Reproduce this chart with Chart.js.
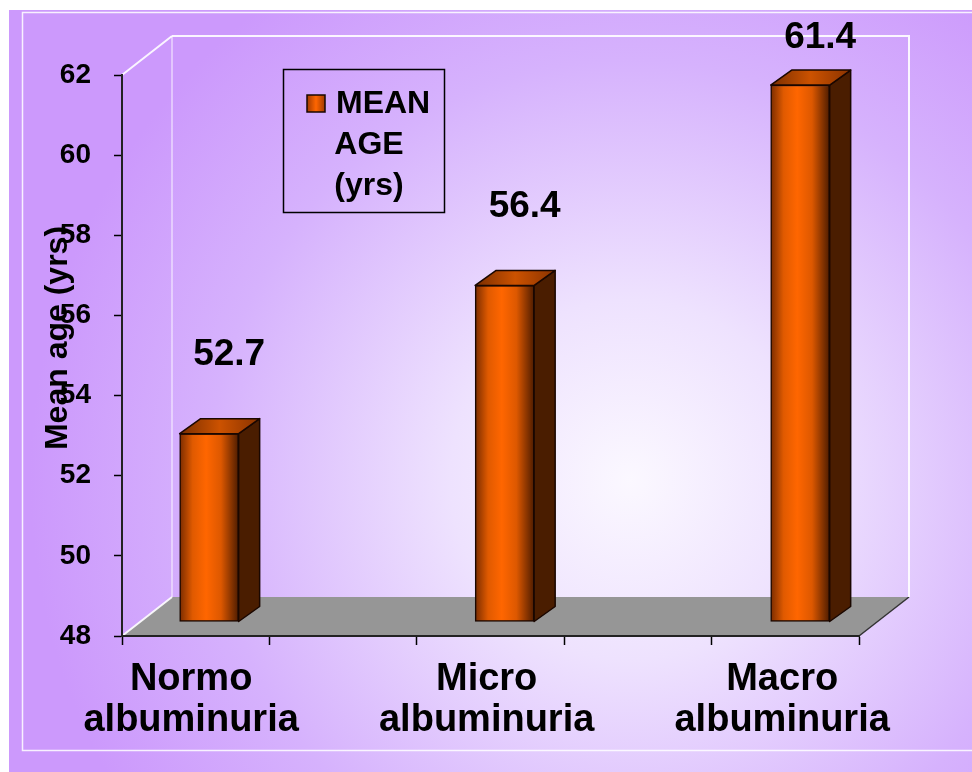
<!DOCTYPE html>
<html>
<head>
<meta charset="utf-8">
<title>Mean age by albuminuria group</title>
<script src="https://cdn.jsdelivr.net/npm/chart.js@4.4.0/dist/chart.umd.min.js"></script>
<style>
  html, body { margin: 0; padding: 0; background: #fff; }
  canvas { display: block; }
</style>
</head>
<body>
<canvas id="ageChart" width="972" height="772"></canvas>
<script>
// data
const categories = [["Normo", "albuminuria"], ["Micro", "albuminuria"], ["Macro", "albuminuria"]];
const meanAge = [52.7, 56.4, 61.4];
const seriesLabel = "MEAN AGE (yrs)";
const yTitle = "Mean age (yrs)";
const yMin = 48, yMax = 62, yStep = 2;

// category i sits at x = i; the range leaves room at both floor edges
const xMin = -0.234, xMax = 2.26;
const xTickCount = 5;

const FONT = '"Liberation Sans", Arial, sans-serif';
const BAR_SHIFT = { x: 18, y: -14 };   // bars stand a little behind the front edge
const BAR_DEPTH = { x: 21, y: -15 };
const BOX_DEPTH = { x: 50, y: -39 };

function isCategory(v) {
  const i = Math.round(v);
  return Math.abs(v - i) < 1e-6 && i >= 0 && i < categories.length;
}

function frontGradient(c) {
  const xs = c.chart.scales.x;
  if (!xs || c.dataIndex === undefined) return "#ff6600";
  const cx = xs.getPixelForValue(c.dataIndex);
  if (!Number.isFinite(cx)) return "#ff6600";
  const g = c.chart.ctx.createLinearGradient(cx - 29.5, 0, cx + 29.5, 0);
  g.addColorStop(0, "#7a2c00");
  g.addColorStop(0.22, "#e05a00");
  g.addColorStop(0.45, "#ff6600");
  g.addColorStop(0.7, "#dd5800");
  g.addColorStop(1, "#4e1c00");
  return g;
}

// background, walls and floor
const backdrop = {
  id: "backdrop",
  beforeDraw(chart) {
    const { ctx, chartArea: a, width, height } = chart;
    ctx.save();
    ctx.fillStyle = "#fff";
    ctx.fillRect(0, 0, width, height);

    const g = ctx.createRadialGradient(630, 480, 0, 630, 480, 600);
    g.addColorStop(0, "#fbf8ff");
    g.addColorStop(0.3, "#eee2fe");
    g.addColorStop(0.7, "#d6b2fd");
    g.addColorStop(1, "#cc99fc");
    ctx.fillStyle = g;
    ctx.fillRect(9, 10, width - 9, height - 10);

    ctx.strokeStyle = "rgba(255,255,255,0.85)";
    ctx.lineWidth = 1.5;
    ctx.beginPath();
    ctx.moveTo(width, 12.5);
    ctx.lineTo(22.5, 12.5);
    ctx.lineTo(22.5, 750.5);
    ctx.lineTo(width, 750.5);
    ctx.stroke();

    const L = a.left, R = a.right, T = a.top, B = a.bottom;
    const dx = BOX_DEPTH.x, dy = BOX_DEPTH.y;

    ctx.fillStyle = "#969696";
    ctx.beginPath();
    ctx.moveTo(L, B);
    ctx.lineTo(L + dx, B + dy);
    ctx.lineTo(R + dx, B + dy);
    ctx.lineTo(R, B);
    ctx.closePath();
    ctx.fill();

    ctx.strokeStyle = "#333";
    ctx.lineWidth = 1.5;
    ctx.beginPath();
    ctx.moveTo(R, B);
    ctx.lineTo(R + dx, B + dy);
    ctx.stroke();

    // back wall and left wall edges
    ctx.strokeStyle = "rgba(255,255,255,0.9)";
    ctx.lineWidth = 2;
    ctx.beginPath();
    ctx.moveTo(L + dx, T + dy);
    ctx.lineTo(R + dx, T + dy);
    ctx.lineTo(R + dx, B + dy);
    ctx.moveTo(L, T);
    ctx.lineTo(L + dx, T + dy);
    ctx.moveTo(L, B);
    ctx.lineTo(L + dx, B + dy);
    ctx.stroke();
    ctx.strokeStyle = "rgba(255,255,255,0.6)";
    ctx.lineWidth = 1.5;
    ctx.beginPath();
    ctx.moveTo(L + dx, B + dy);
    ctx.lineTo(L + dx, T + dy);
    ctx.stroke();
    ctx.restore();
  }
};

// shifts the bars back and adds their side and top faces
const bars3d = {
  id: "bars3d",
  beforeDatasetsDraw(chart) {
    chart.ctx.save();
    chart.ctx.translate(BAR_SHIFT.x, BAR_SHIFT.y);
  },
  afterDatasetsDraw(chart) {
    const ctx = chart.ctx;
    const dx = BAR_DEPTH.x, dy = BAR_DEPTH.y;
    chart.getDatasetMeta(0).data.forEach(bar => {
      const { x, y, base, width } = bar.getProps(["x", "y", "base", "width"], true);
      const l = x - width / 2, r = x + width / 2;
      ctx.lineWidth = 1.5;
      ctx.strokeStyle = "#1a0700";
      ctx.lineJoin = "round";

      ctx.fillStyle = "#4a1d00";
      ctx.beginPath();
      ctx.moveTo(r, y);
      ctx.lineTo(r + dx, y + dy);
      ctx.lineTo(r + dx, base + dy);
      ctx.lineTo(r, base);
      ctx.closePath();
      ctx.fill();
      ctx.stroke();

      const tg = ctx.createLinearGradient(l, 0, r + dx, 0);
      tg.addColorStop(0, "#7a2e00");
      tg.addColorStop(0.5, "#cc5200");
      tg.addColorStop(1, "#8a3300");
      ctx.fillStyle = tg;
      ctx.beginPath();
      ctx.moveTo(l, y);
      ctx.lineTo(l + dx, y + dy);
      ctx.lineTo(r + dx, y + dy);
      ctx.lineTo(r, y);
      ctx.closePath();
      ctx.fill();
      ctx.stroke();
    });
    ctx.restore();
  }
};

const valueLabels = {
  id: "valueLabels",
  afterDraw(chart) {
    const ctx = chart.ctx;
    ctx.save();
    ctx.font = "bold 37px " + FONT;
    ctx.fillStyle = "#000";
    ctx.textAlign = "center";
    ctx.textBaseline = "middle";
    chart.getDatasetMeta(0).data.forEach((bar, i) => {
      const lx = bar.x + BAR_SHIFT.x + BAR_DEPTH.x - 1;
      const ly = Math.max(38, bar.y - 93);
      ctx.fillText(meanAge[i].toFixed(1), lx, ly);
    });
    ctx.restore();
  }
};

const legendBox = {
  id: "legendBox",
  afterDraw(chart) {
    const ctx = chart.ctx;
    const bx = 283.5, by = 69.5, bw = 161, bh = 143;
    ctx.save();
    ctx.strokeStyle = "#000";
    ctx.lineWidth = 1.5;
    ctx.strokeRect(bx, by, bw, bh);

    const sg = ctx.createLinearGradient(307, 0, 325, 0);
    sg.addColorStop(0, "#a03a00");
    sg.addColorStop(0.5, "#ff6600");
    sg.addColorStop(1, "#a03a00");
    ctx.fillStyle = sg;
    ctx.fillRect(307, 95, 18, 17);
    ctx.strokeStyle = "#1a0700";
    ctx.lineWidth = 1.5;
    ctx.strokeRect(307, 95, 18, 17);

    const lines = chart.data.datasets[0].label.split(" ");
    ctx.font = "bold 32px " + FONT;
    ctx.fillStyle = "#000";
    ctx.textBaseline = "middle";
    ctx.textAlign = "left";
    ctx.fillText(lines[0], 336, 104);
    ctx.textAlign = "center";
    lines.slice(1).forEach((t, k) => ctx.fillText(t, 369, 145 + k * 41));
    ctx.restore();
  }
};

const yAxisTitle = {
  id: "yAxisTitle",
  afterDraw(chart) {
    const ctx = chart.ctx;
    ctx.save();
    ctx.translate(67, 338);
    ctx.rotate(-Math.PI / 2);
    ctx.font = "bold 32px " + FONT;
    ctx.fillStyle = "#000";
    ctx.textAlign = "center";
    ctx.textBaseline = "alphabetic";
    ctx.fillText(yTitle, 0, 0);
    ctx.restore();
  }
};

new Chart(document.getElementById("ageChart"), {
  type: "bar",
  data: {
    datasets: [{
      label: seriesLabel,
      data: meanAge.map((v, i) => ({ x: i, y: v })),
      base: yMin,
      barThickness: 59,
      backgroundColor: frontGradient,
      borderColor: "#1a0700",
      borderWidth: 1.5,
      borderSkipped: false,
      clip: false
    }]
  },
  options: {
    responsive: false,
    animation: false,
    devicePixelRatio: 1,
    layout: { padding: { top: 75, right: 113, left: 0, bottom: 0 } },
    plugins: {
      legend: { display: false },
      tooltip: { enabled: false }
    },
    scales: {
      x: {
        type: "linear",
        min: xMin,
        max: xMax,
        offset: false,
        afterBuildTicks(scale) {
          const ticks = [];
          for (let k = 0; k <= xTickCount; k++) {
            ticks.push({ value: xMin + k * (xMax - xMin) / xTickCount });
          }
          categories.forEach((c, i) => ticks.push({ value: i }));
          ticks.sort((p, q) => p.value - q.value);
          scale.ticks = ticks;
        },
        afterFit(scale) { scale.height = 136; },
        grid: {
          drawOnChartArea: false,
          offset: false,
          tickLength: 9,
          tickWidth: 1.5,
          tickColor: c => (c.tick && isCategory(c.tick.value)) ? "rgba(0,0,0,0)" : "#000"
        },
        border: { display: true, color: "#222", width: 2 },
        ticks: {
          autoSkip: false,
          maxRotation: 0,
          minRotation: 0,
          padding: 14,
          color: "#000",
          font: { family: FONT, size: 38, weight: "bold", lineHeight: 1.08 },
          callback: v => isCategory(v) ? categories[Math.round(v)] : ""
        }
      },
      y: {
        min: yMin,
        max: yMax,
        afterFit(scale) { scale.width = 122; },
        grid: { drawOnChartArea: false, tickLength: 8, tickWidth: 1.5, tickColor: "#000" },
        border: { display: true, color: "#222", width: 2 },
        ticks: {
          stepSize: yStep,
          padding: 23,
          color: "#000",
          font: { family: FONT, size: 28, weight: "bold" }
        }
      }
    }
  },
  plugins: [backdrop, bars3d, valueLabels, legendBox, yAxisTitle]
});
</script>
</body>
</html>
